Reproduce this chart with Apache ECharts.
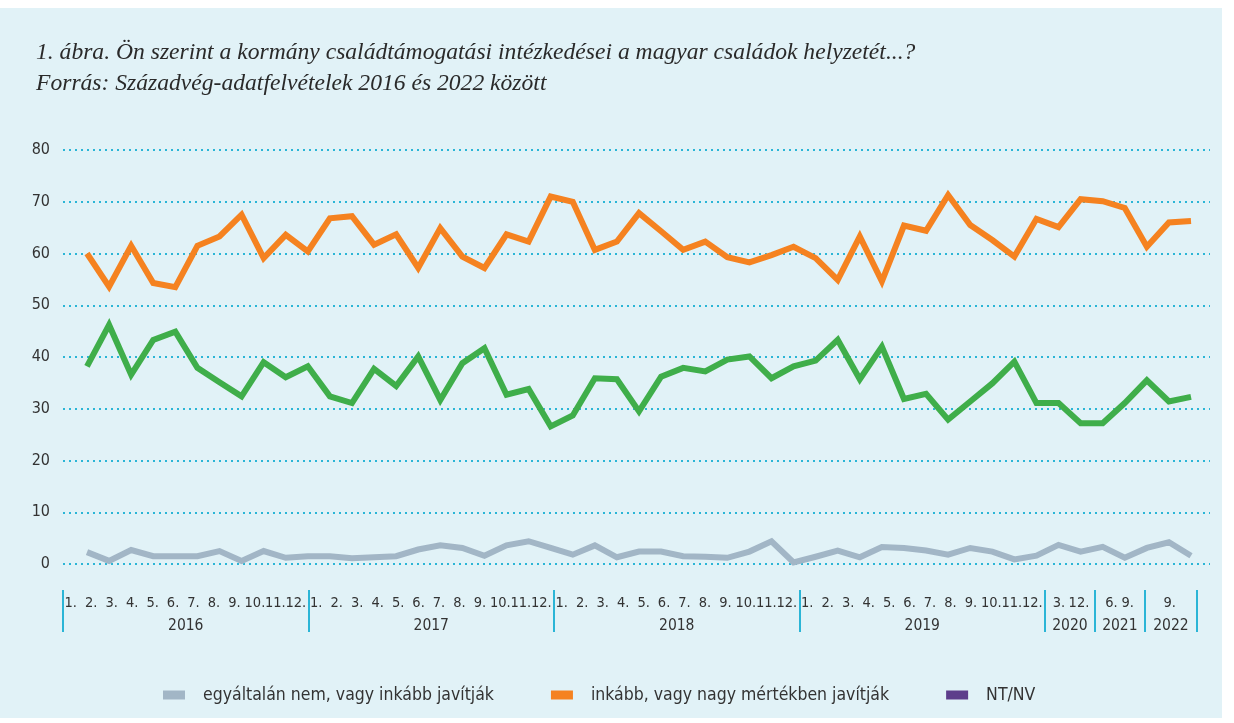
<!DOCTYPE html>
<html><head><meta charset="utf-8">
<script src="https://cdn.jsdelivr.net/npm/echarts@6/dist/echarts.min.js"></script>
<style>
html,body{margin:0;padding:0;background:#ffffff;}
#bg{position:absolute;left:0;top:8px;width:1222px;height:710px;background:#E1F2F7;}
#c{position:absolute;left:0;top:0;width:1234px;height:723px;}
</style>
</head><body><div id="bg"></div><div id="c"></div>
<script>
// ---- data ----
const titleLines = [
  '1. ábra. Ön szerint a kormány családtámogatási intézkedései a magyar családok helyzetét...?',
  'Forrás: Századvég-adatfelvételek 2016 és 2022 között'
];
const seriesNames = ['egyáltalán nem, vagy inkább javítják', 'inkább, vagy nagy mértékben javítják', 'NT/NV'];
const notImprove = [2.3,0.6,2.7,1.5,1.5,1.5,2.5,0.6,2.5,1.2,1.5,1.5,1.1,1.3,1.5,2.8,3.6,3.1,1.6,3.6,4.4,3.1,1.8,3.6,1.3,2.4,2.4,1.5,1.4,1.2,2.4,4.4,0.3,1.4,2.6,1.3,3.3,3.1,2.6,1.8,3.1,2.4,0.9,1.6,3.7,2.4,3.3,1.2,3.1,4.2,1.6];
const improve = [60,53.6,61.5,54.3,53.5,61.5,63.3,67.5,59.1,63.6,60.4,66.8,67.2,61.7,63.7,57.2,64.9,59.4,57.2,63.7,62.3,71.0,70.0,60.7,62.3,67.8,64.3,60.7,62.3,59.3,58.3,59.7,61.3,59.1,54.9,63.3,54.6,65.4,64.4,71.3,65.5,62.6,59.4,66.7,65.1,70.5,70.1,68.8,61.3,66.0,66.3];
const dontKnow = [38.2,46.2,36.6,43.3,44.9,37.9,35.1,32.4,39.0,36.1,38.2,32.4,31.1,37.7,34.4,40.1,31.7,38.8,41.7,32.7,33.8,26.6,28.7,35.9,35.7,29.5,36.2,37.9,37.2,39.5,40.1,35.9,38.2,39.3,43.3,35.7,42.0,31.9,32.9,27.9,31.4,34.9,39.1,31.1,31.1,27.2,27.2,31.1,35.5,31.4,32.3];
const yearLabels = ['2016','2017','2018','2019','2020','2021','2022'];
const fullYearMonths = ['1.','2.','3.','4.','5.','6.','7.','8.','9.','10.','11.','12.'];
const monthLabels = [fullYearMonths, fullYearMonths, fullYearMonths, fullYearMonths, ['3.','12.'], ['6.','9.'], ['9.']];
const yTicks = [0,10,20,30,40,50,60,70,80];

// ---- layout (label band units: one month slot of 2016-2019) ----
const groupBounds = [0,12,24,36,48,50.44,52.88,55.43];
const shortGroupPos = [[48.68,49.66],[51.25,52.04],[54.1]];
const monthPos = [], monthText = new Map();
monthLabels.forEach((arr, g) => {
  arr.forEach((t, k) => {
    const p = g < 4 ? groupBounds[g] + k + 0.38 : shortGroupPos[g-4][k];
    monthPos.push(p); monthText.set(Math.round(p*1000), t);
  });
});
const yearPos = [], yearText = new Map();
yearLabels.forEach((t, g) => {
  const p = (groupBounds[g] + groupBounds[g+1]) / 2;
  yearPos.push(p); yearText.set(Math.round(p*1000), t);
});

const sansFont = "'Liberation Sans Narrow', 'DejaVu Sans Condensed', 'Roboto', sans-serif";
const cyan = '#2BB5D6';
const toPairs = arr => arr.map((v, i) => [i, v]);

const chart = echarts.init(document.getElementById('c'), null, {renderer: 'canvas'});
chart.setOption({
  animation: false,
  backgroundColor: 'transparent',
  title: {
    text: titleLines.join('\n'),
    left: 36, top: 38, padding: 0,
    textStyle: {fontFamily: "'Liberation Serif', 'DejaVu Serif', serif", fontStyle: 'italic', fontWeight: 'normal', fontSize: 23.6, lineHeight: 30.5, color: '#2a2a2a'}
  },
  legend: {
    left: 163, top: 686, padding: 0,
    icon: 'rect', itemWidth: 22, itemHeight: 9, itemGap: 57,
    textStyle: {fontFamily: sansFont, fontSize: 17.5, color: '#333', padding: [0,0,0,13]},
    data: [
      {name: seriesNames[0]},
      {name: seriesNames[1]},
      {name: seriesNames[2], itemStyle: {color: '#5D3D8B'}}
    ]
  },
  grid: [
    {left: 63, right: 24, top: 150, bottom: 723-564},
    {left: 63, width: 1134, top: 589, height: 1}
  ],
  xAxis: [
    {type: 'value', gridIndex: 0, min: -1.087, max: 50.86, show: false},
    {type: 'value', gridIndex: 1, position: 'bottom', min: 0, max: groupBounds[groupBounds.length-1],
      axisLine: {show: false}, splitLine: {show: false},
      axisTick: {show: true, customValues: groupBounds, length: 42, lineStyle: {color: cyan, width: 2}},
      axisLabel: {customValues: monthPos, margin: 6, fontFamily: sansFont, fontSize: 14.5, color: '#333',
        formatter: v => monthText.get(Math.round(v*1000)) || ''}
    },
    {type: 'value', gridIndex: 1, position: 'bottom', offset: 0, min: 0, max: groupBounds[groupBounds.length-1],
      axisLine: {show: false}, splitLine: {show: false}, axisTick: {show: false},
      axisLabel: {customValues: yearPos, margin: 28, fontFamily: sansFont, fontSize: 15.5, color: '#333',
        formatter: v => yearText.get(Math.round(v*1000)) || ''}
    }
  ],
  yAxis: [
    {type: 'value', gridIndex: 0, min: yTicks[0], max: yTicks[yTicks.length-1], interval: 10,
      axisLine: {show: false}, axisTick: {show: false},
      axisLabel: {margin: 13, fontFamily: sansFont, fontSize: 16, color: '#333'},
      splitLine: {show: true, lineStyle: {color: cyan, width: 2, type: [2, 4]}}
    },
    {type: 'value', gridIndex: 1, show: false}
  ],
  series: [
    {name: seriesNames[0], type: 'line', xAxisIndex: 0, yAxisIndex: 0, data: toPairs(notImprove), symbol: 'none',
      color: '#A2B6C6', lineStyle: {width: 6, color: '#A2B6C6', join: 'miter', cap: 'butt'}},
    {name: seriesNames[1], type: 'line', xAxisIndex: 0, yAxisIndex: 0, data: toPairs(improve), symbol: 'none',
      color: '#F58220', lineStyle: {width: 6, color: '#F58220', join: 'miter', cap: 'butt'}},
    {name: seriesNames[2], type: 'line', xAxisIndex: 0, yAxisIndex: 0, data: toPairs(dontKnow), symbol: 'none',
      color: '#3FAE4A', lineStyle: {width: 6, color: '#3FAE4A', join: 'miter', cap: 'butt'}}
  ]
});
</script>
</body></html>
